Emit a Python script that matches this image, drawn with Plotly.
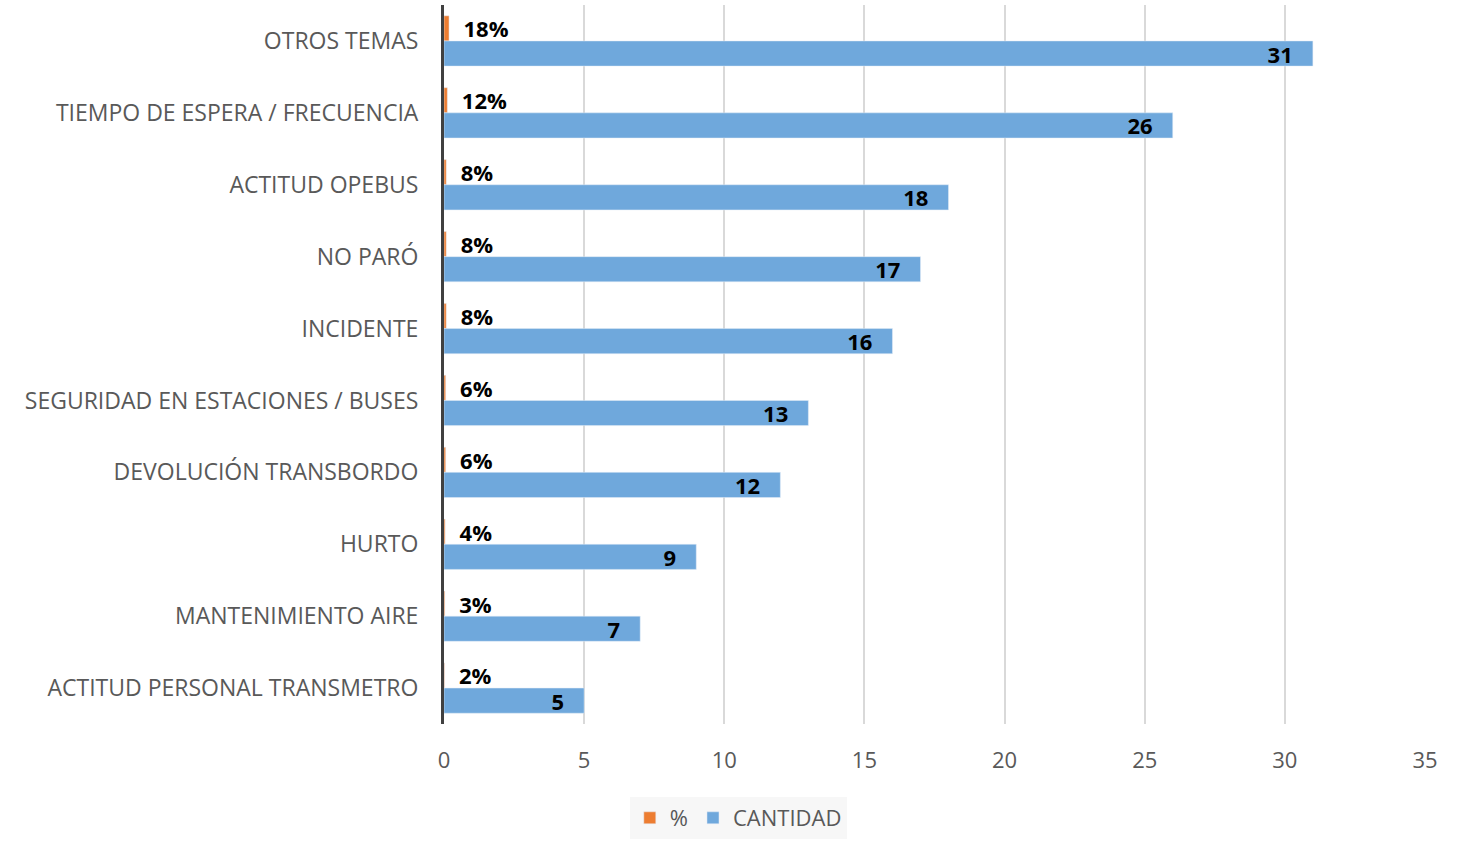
import plotly.graph_objects as go

categories = ["OTROS TEMAS", "TIEMPO DE ESPERA / FRECUENCIA", "ACTITUD OPEBUS", "NO PARÓ",
              "INCIDENTE", "SEGURIDAD EN ESTACIONES / BUSES", "DEVOLUCIÓN TRANSBORDO",
              "HURTO", "MANTENIMIENTO AIRE", "ACTITUD PERSONAL TRANSMETRO"]
cantidad = [31, 26, 18, 17, 16, 13, 12, 9, 7, 5]
porcentaje = [0.18, 0.12, 0.08, 0.08, 0.08, 0.06, 0.06, 0.04, 0.03, 0.02]
pct_labels = ["18%", "12%", "8%", "8%", "8%", "6%", "6%", "4%", "3%", "2%"]
x_ticks = [0, 5, 10, 15, 20, 25, 30, 35]

FONT = "Open Sans"
GRAY = "#595959"
NB = "\u00a0"
FS = 22

fig = go.Figure()
fig.add_trace(go.Bar(
    name="%", y=categories, x=porcentaje, orientation="h",
    marker=dict(color="#ED7D31"),
    text=[NB * 2 + t for t in pct_labels], textposition="outside",
    textfont=dict(family=FONT, size=FS, color="#000000", weight="bold"),
    cliponaxis=False,
))
fig.add_trace(go.Bar(
    name="CANTIDAD", y=categories, x=cantidad, orientation="h",
    marker=dict(color="#6FA8DC"),
    text=[str(v) + NB * 3 for v in cantidad], textposition="inside", insidetextanchor="end",
    textangle=0,
    textfont=dict(family=FONT, size=FS, color="#000000", weight="bold"),
    cliponaxis=False,
))

fig.update_layout(
    width=1466, height=843,
    margin=dict(l=444, r=41, t=5, b=118),
    barmode="group", bargap=0.3, bargroupgap=0,
    plot_bgcolor="white", paper_bgcolor="white",
    font=dict(family=FONT, size=FS, color=GRAY),
    uniformtext=dict(minsize=FS, mode="show"),
    showlegend=True,
    legend=dict(orientation="h", x=0.3, xanchor="center", y=-0.1, yanchor="top",
                bgcolor="#F7F7F7", font=dict(family=FONT, size=FS, color=GRAY),
                itemwidth=30, traceorder="normal"),
)
fig.update_xaxes(range=[0, 35], tickvals=x_ticks, showgrid=True, gridcolor="#D9D9D9",
                 gridwidth=1.5, zeroline=False, showline=False, ticks="",
                 ticklabelstandoff=21,
                 tickfont=dict(family=FONT, size=FS, color=GRAY))
fig.update_yaxes(autorange="reversed", showline=True, linecolor="#404040", linewidth=3,
                 ticks="", ticklabelstandoff=18,
                 tickfont=dict(family=FONT, size=23, color=GRAY))

fig.write_html("out.html")
